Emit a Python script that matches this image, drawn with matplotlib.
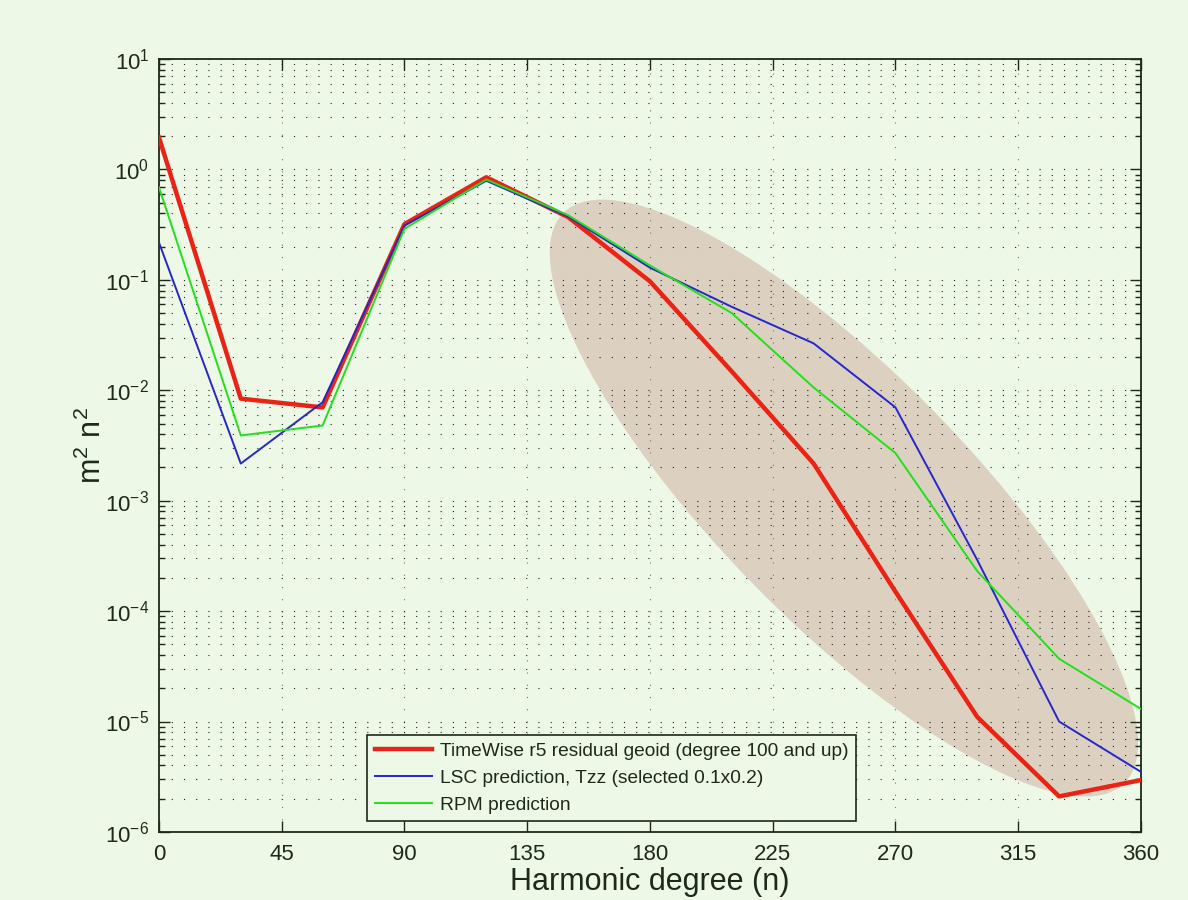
import numpy as np
import matplotlib
matplotlib.use('Agg')
from matplotlib import pyplot as plt
from matplotlib.patches import Ellipse
from matplotlib import transforms
from matplotlib.ticker import NullFormatter

# harmonic degree samples
degree = [0, 30, 60, 90, 120, 150, 180, 210, 240, 270, 300, 330, 360]

# degree variances (m^2 n^2)
timewise = [1.95, 8.4e-3, 7.0e-3, 0.32, 0.85, 0.37, 0.097, 0.0148, 2.17e-3, 1.5e-4, 1.1e-5, 2.1e-6, 2.95e-6]
lsc = [0.218, 2.17e-3, 7.8e-3, 0.31, 0.79, 0.375, 0.129, 0.057, 0.0266, 7.0e-3, 2.9e-4, 1.0e-5, 3.5e-6]
rpm = [0.69, 3.9e-3, 4.8e-3, 0.29, 0.81, 0.385, 0.135, 0.050, 0.0106, 2.7e-3, 2.3e-4, 3.7e-5, 1.3e-5]

labels = ['TimeWise r5 residual geoid (degree 100 and up)',
          'LSC prediction, Tzz (selected 0.1x0.2)',
          'RPM prediction']
xticks = [0, 45, 90, 135, 180, 225, 270, 315, 360]

bg = '#edf8e6'
ink = '#1c2a1c'

plt.rcParams['font.family'] = ['Liberation Sans', 'DejaVu Sans']
plt.rcParams['mathtext.fontset'] = 'custom'
plt.rcParams['mathtext.rm'] = 'Liberation Sans'
plt.rcParams['mathtext.it'] = 'Liberation Sans:italic'
plt.rcParams['text.color'] = ink
plt.rcParams['axes.labelcolor'] = ink
plt.rcParams['xtick.color'] = ink
plt.rcParams['ytick.color'] = ink

fig = plt.figure(figsize=(11.88, 9), dpi=100, facecolor=bg)
ax = fig.add_axes([0.1338, 0.0756, 0.8266, 0.8588], facecolor=bg)

# shaded region over the high-degree part
off = transforms.ScaledTranslation(0.6975, 0.432, ax.transAxes)
ell = Ellipse((0, 0), 8.0, 2.5, angle=-45.5, facecolor='#dcd1c1',
              edgecolor='none', transform=fig.dpi_scale_trans + off, zorder=1)
ax.add_patch(ell)

ax.semilogy(degree, timewise, color='#ea2314', lw=3.2, label=labels[0], zorder=3)
ax.semilogy(degree, lsc, color='#2626cc', lw=1.4, label=labels[1], zorder=3)
ax.semilogy(degree, rpm, color='#22e01a', lw=1.4, label=labels[2], zorder=3)

ax.set_xlim(0, 360)
ax.set_ylim(1e-6, 10)
ax.set_xticks(xticks)
ax.set_xticklabels([str(t) for t in xticks])
ax.yaxis.set_minor_formatter(NullFormatter())
ax.tick_params(which='both', direction='in', top=True, right=True, labelsize=16, width=1.0)
ax.tick_params(which='major', length=8, pad=7)
ax.tick_params(which='minor', length=4)
ax.tick_params(axis='x', which='minor', bottom=False, top=False)
ax.tick_params(axis='x', which='major', pad=9)

ax.set_axisbelow('line')
dots = (0, (1, 10))
ax.grid(True, axis='y', which='both', color='#222222', lw=0.8, linestyle=dots)
ax.grid(True, axis='x', which='major', color='#777777', lw=0.8, linestyle=dots)

for s in ax.spines.values():
    s.set_color(ink)
    s.set_linewidth(1.3)

ax.set_xlabel('Harmonic degree (n)', fontsize=22, labelpad=1)
ax.set_ylabel('m$^2$ n$^2$', fontsize=22, labelpad=-2)

leg = ax.legend(loc='lower left', bbox_to_anchor=(0.212, 0.014), borderaxespad=0,
                fontsize=13.75, handlelength=3.0, handletextpad=0.4,
                borderpad=0.4, labelspacing=0.5,
                fancybox=False, framealpha=1, facecolor=bg, edgecolor=ink)
leg.get_frame().set_linewidth(1.2)

fig.savefig('out.png', dpi=100, facecolor=bg)
